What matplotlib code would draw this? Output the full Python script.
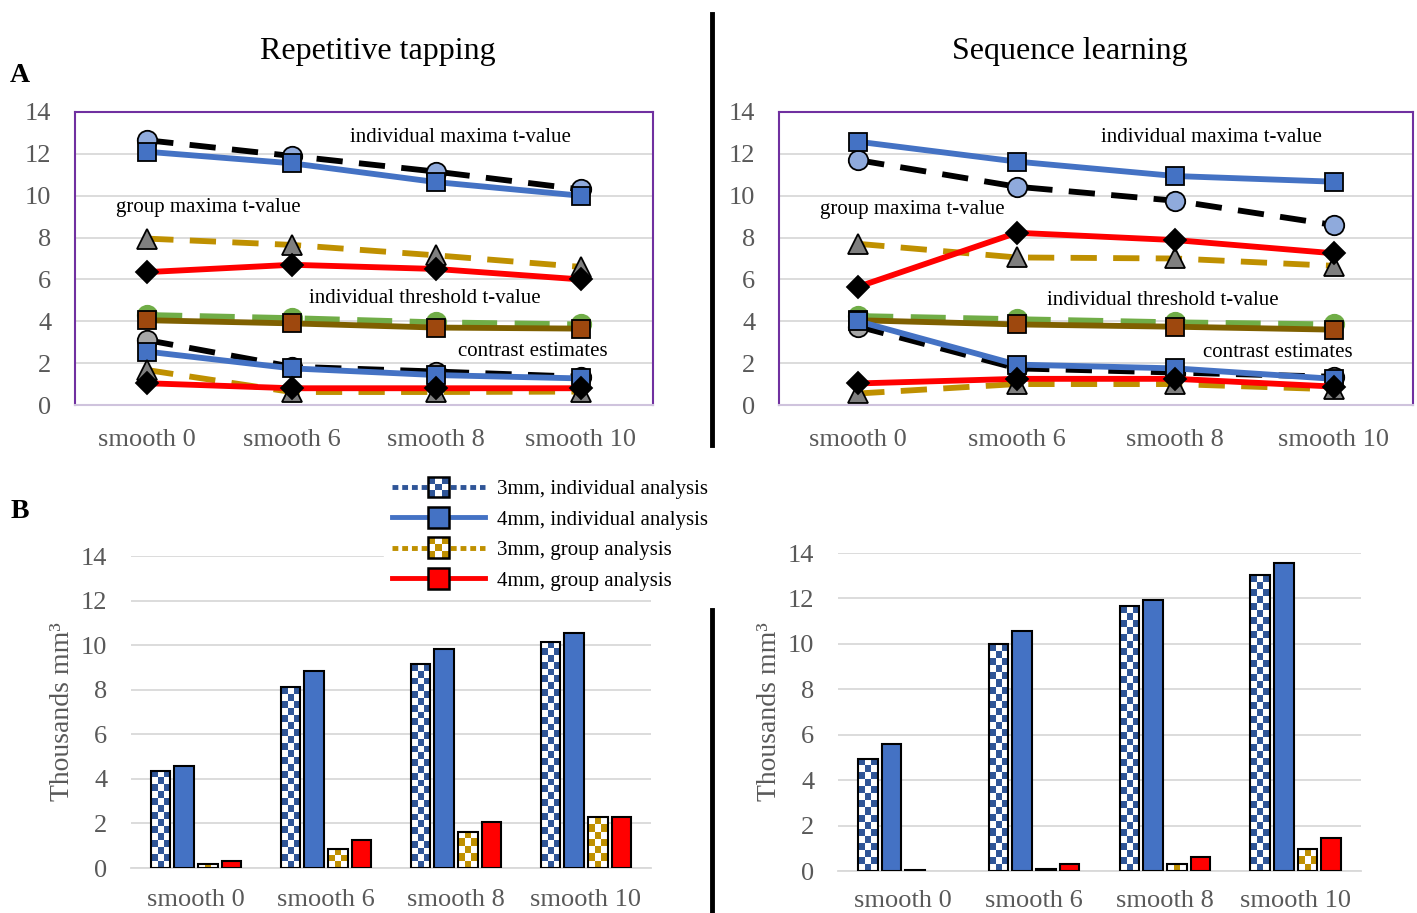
import numpy as np
import matplotlib
matplotlib.use('Agg')
import matplotlib.pyplot as plt
from matplotlib.lines import Line2D
from matplotlib.patches import Rectangle
from matplotlib.colors import ListedColormap
from matplotlib.legend_handler import HandlerBase

plt.rcParams['font.family'] = ['Liberation Serif', 'DejaVu Serif']

W, H = 1417, 913

categories = ['smooth 0', 'smooth 6', 'smooth 8', 'smooth 10']

# Panel A, repetitive tapping (t-values)
tap_ind_max_3mm = [12.65, 11.9, 11.15, 10.3]
tap_ind_max_4mm = [12.1, 11.55, 10.65, 10.0]
tap_grp_max_3mm = [7.95, 7.65, 7.15, 6.6]
tap_grp_max_4mm = [6.35, 6.7, 6.5, 6.0]
tap_thr_3mm = [4.3, 4.15, 3.95, 3.85]
tap_thr_4mm = [4.05, 3.9, 3.7, 3.65]
tap_con_ind_3mm = [3.1, 1.83, 1.6, 1.35]
tap_con_ind_4mm = [2.55, 1.75, 1.43, 1.27]
tap_con_grp_3mm = [1.67, 0.62, 0.62, 0.64]
tap_con_grp_4mm = [1.04, 0.8, 0.8, 0.8]

# Panel A, sequence learning (t-values)
seq_ind_max_3mm = [11.7, 10.43, 9.76, 8.6]
seq_ind_max_4mm = [12.58, 11.63, 10.94, 10.67]
seq_grp_max_3mm = [7.7, 7.05, 7.0, 6.65]
seq_grp_max_4mm = [5.65, 8.23, 7.88, 7.25]
seq_thr_3mm = [4.25, 4.1, 3.95, 3.85]
seq_thr_4mm = [4.05, 3.85, 3.74, 3.6]
seq_con_ind_3mm = [3.75, 1.75, 1.55, 1.35]
seq_con_ind_4mm = [4.0, 1.93, 1.75, 1.25]
seq_con_grp_3mm = [0.55, 1.0, 1.0, 0.75]
seq_con_grp_4mm = [1.03, 1.25, 1.25, 0.88]

# Panel B, volumes (thousands mm3)
tap_vol_ind_3mm = [4.37, 8.12, 9.15, 10.15]
tap_vol_ind_4mm = [4.58, 8.84, 9.83, 10.53]
tap_vol_grp_3mm = [0.19, 0.87, 1.63, 2.27]
tap_vol_grp_4mm = [0.3, 1.26, 2.08, 2.27]

seq_vol_ind_3mm = [4.95, 9.98, 11.66, 13.03]
seq_vol_ind_4mm = [5.57, 10.56, 11.93, 13.56]
seq_vol_grp_3mm = [0.03, 0.1, 0.33, 0.95]
seq_vol_grp_4mm = [0.0, 0.33, 0.6, 1.47]

BLUE = '#4472C4'
DKBLUE = '#2F5597'
GOLD = '#BF9000'
RED = '#FF0000'
TICK = '#595959'
GRID = '#D9D9D9'
PURPLE = '#7030A0'

dash = (0, (4.5, 2.8))
line_styles = [
    dict(color='black', ls=dash, marker='o', ms=14, mfc='#8FAADC'),
    dict(color=BLUE, ls='-', marker='s', ms=13, mfc=BLUE),
    dict(color=GOLD, ls=dash, marker='^', ms=15, mfc='#7F7F7F'),
    dict(color=RED, ls='-', marker='D', ms=11, mfc='black'),
    dict(color='#70AD47', ls=(0, (6, 3)), marker='o', ms=14, mfc='#70AD47', mec='#70AD47'),
    dict(color='#7F6000', ls='-', marker='s', ms=13, mfc='#9E480E'),
    dict(color='black', ls=dash, marker='o', ms=14, mfc='#A6A6A6'),
    dict(color=BLUE, ls='-', marker='s', ms=13, mfc=BLUE),
    dict(color=GOLD, ls=dash, marker='^', ms=15, mfc='#7F7F7F'),
    dict(color=RED, ls='-', marker='D', ms=11, mfc='black'),
]


def px_axes(fig, left, top, right, bottom):
    return fig.add_axes([left / W, 1 - bottom / H, (right - left) / W, (bottom - top) / H])


def draw_lines(ax, series, notes):
    x = np.arange(len(categories))
    for vals, st in zip(series, line_styles):
        st = dict(st)
        st.setdefault('mec', 'black')
        ax.plot(x, vals, lw=4.2, mew=1.3, dash_capstyle='butt', **st)
    for (tx, ty, s) in notes:
        ax.text(tx, ty, s, ha='center', va='center', fontsize=15, color='black')
    ax.set_xlim(-0.5, 3.5)
    ax.set_ylim(0, 14)
    ax.set_yticks(range(0, 15, 2))
    ax.set_xticks(x)
    ax.set_xticklabels(categories)
    ax.tick_params(axis='y', length=0, pad=17, labelsize=19, labelcolor=TICK)
    ax.tick_params(axis='x', length=0, pad=17, labelsize=19, labelcolor=TICK)
    ax.grid(axis='y', color=GRID, lw=1.3)
    ax.set_axisbelow(True)
    for sp in ax.spines.values():
        sp.set_color(PURPLE)
        sp.set_linewidth(1.5)
    ax.spines['bottom'].set_color('#CFC3DD')


def checker_bars(ax, x, vals, width, color):
    lws = [1.5 if v > 0 else 0 for v in vals]
    rects = ax.bar(x, vals, width, color='white', edgecolor='none', zorder=2)
    cmap = ListedColormap(['white', color])
    for r in rects:
        h = r.get_height()
        if h <= 0:
            continue
        nrows = max(1, int(round(h / 0.31)))
        pattern = np.add.outer(np.arange(nrows), np.arange(3)) % 2
        im = ax.imshow(pattern, extent=(r.get_x(), r.get_x() + r.get_width(), 0, h),
                       origin='lower', cmap=cmap, aspect='auto', interpolation='nearest',
                       zorder=2.5, vmin=0, vmax=1)
        im.set_clip_path(r)
    ax.bar(x, vals, width, fill=False, edgecolor='black', linewidth=lws, zorder=3)


def draw_bars(ax, ind3, ind4, grp3, grp4, xpad):
    x = np.arange(len(categories))
    step, width = 0.181, 0.15
    checker_bars(ax, x - 1.5 * step, ind3, width, DKBLUE)
    ax.bar(x - 0.5 * step, ind4, width, color=BLUE, edgecolor='black', linewidth=1.5, zorder=3)
    checker_bars(ax, x + 0.5 * step, grp3, width, GOLD)
    lws = [1.5 if v > 0 else 0 for v in grp4]
    ax.bar(x + 1.5 * step, grp4, width, color=RED, edgecolor='black', linewidth=lws, zorder=3)
    ax.set_xlim(-0.5, 3.5)
    ax.set_ylim(0, 14)
    ax.set_yticks(range(0, 15, 2))
    ax.set_xticks(x)
    ax.set_xticklabels(categories)
    ax.tick_params(axis='y', length=0, pad=17, labelsize=19, labelcolor=TICK)
    ax.tick_params(axis='x', length=0, pad=xpad, labelsize=19, labelcolor=TICK)
    ax.grid(axis='y', color=GRID, lw=1.3)
    ax.set_axisbelow(True)
    for k in ['left', 'right', 'top']:
        ax.spines[k].set_visible(False)
    ax.spines['bottom'].set_color(GRID)
    ax.spines['bottom'].set_linewidth(1.3)
    ax.set_ylabel('Thousands mm³', fontsize=20, color=TICK, labelpad=4)


class SwatchHandler(HandlerBase):
    def __init__(self, line_color, line_style, face, checker):
        super().__init__()
        self.line_color = line_color
        self.line_style = line_style
        self.face = face
        self.checker = checker

    def create_artists(self, legend, orig_handle, xdescent, ydescent, width, height, fontsize, trans):
        yc = height / 2 - ydescent
        line = Line2D([-xdescent, width - xdescent], [yc, yc], color=self.line_color,
                      lw=3.5, linestyle=self.line_style, transform=trans)
        s = fontsize * 1.0
        x0 = width / 2 - xdescent - s / 2
        y0 = yc - s / 2
        arts = [line]
        if self.checker:
            c = s / 3
            for i in range(3):
                for j in range(3):
                    fc = self.face if (i + j) % 2 == 0 else 'white'
                    arts.append(Rectangle((x0 + i * c, y0 + j * c), c, c, facecolor=fc,
                                          edgecolor='none', transform=trans))
            arts.append(Rectangle((x0, y0), s, s, facecolor='none', edgecolor='black',
                                  lw=1.8, transform=trans))
        else:
            arts.append(Rectangle((x0, y0), s, s, facecolor=self.face, edgecolor='black',
                                  lw=1.8, transform=trans))
        return arts


fig = plt.figure(figsize=(W / 100, H / 100), dpi=100)

ax1 = px_axes(fig, 75, 112, 653, 405)
draw_lines(ax1, [tap_ind_max_3mm, tap_ind_max_4mm, tap_grp_max_3mm, tap_grp_max_4mm,
                 tap_thr_3mm, tap_thr_4mm, tap_con_ind_3mm, tap_con_ind_4mm,
                 tap_con_grp_3mm, tap_con_grp_4mm],
           [(2.17, 12.8, 'individual maxima t-value'),
            (0.42, 9.45, 'group maxima t-value'),
            (1.92, 5.07, 'individual threshold t-value'),
            (2.67, 2.58, 'contrast estimates')])

ax2 = px_axes(fig, 779, 112, 1413, 405)
draw_lines(ax2, [seq_ind_max_3mm, seq_ind_max_4mm, seq_grp_max_3mm, seq_grp_max_4mm,
                 seq_thr_3mm, seq_thr_4mm, seq_con_ind_3mm, seq_con_ind_4mm,
                 seq_con_grp_3mm, seq_con_grp_4mm],
           [(2.23, 12.78, 'individual maxima t-value'),
            (0.34, 9.33, 'group maxima t-value'),
            (1.92, 4.98, 'individual threshold t-value'),
            (2.65, 2.49, 'contrast estimates')])

ax3 = px_axes(fig, 131, 556, 651, 868)
draw_bars(ax3, tap_vol_ind_3mm, tap_vol_ind_4mm, tap_vol_grp_3mm, tap_vol_grp_4mm, 15)

ax4 = px_axes(fig, 838, 553, 1361, 871)
draw_bars(ax4, seq_vol_ind_3mm, seq_vol_ind_4mm, seq_vol_grp_3mm, seq_vol_grp_4mm, 14)

fig.text(378 / W, 1 - 52 / H, 'Repetitive tapping', ha='center', va='center', fontsize=23)
fig.text(1070 / W, 1 - 52 / H, 'Sequence learning', ha='center', va='center', fontsize=23)
fig.text(20 / W, 1 - 75 / H, 'A', ha='center', va='center', fontsize=20, fontweight='bold')
fig.text(20 / W, 1 - 512 / H, 'B', ha='center', va='center', fontsize=20, fontweight='bold')

fig.add_artist(Line2D([712 / W, 712 / W], [1 - 14 / H, 1 - 445 / H], transform=fig.transFigure,
                      color='black', lw=3.5))
fig.add_artist(Line2D([712 / W, 712 / W], [1 - 610 / H, 0], transform=fig.transFigure,
                      color='black', lw=3.5))

handles = [Line2D([], []) for _ in range(4)]
labels = ['3mm, individual analysis', '4mm, individual analysis',
          '3mm, group analysis', '4mm, group analysis']
hmap = {
    handles[0]: SwatchHandler(DKBLUE, (0, (1.2, 0.8)), DKBLUE, True),
    handles[1]: SwatchHandler(BLUE, '-', BLUE, False),
    handles[2]: SwatchHandler(GOLD, (0, (1.2, 0.8)), GOLD, True),
    handles[3]: SwatchHandler(RED, '-', RED, False),
}
leg = fig.legend(handles, labels, handler_map=hmap, loc='upper left',
                 bbox_to_anchor=(374 / W, 1 - 462 / H), fontsize=15, handlelength=4.5,
                 handletextpad=0.55, labelspacing=0.52, borderpad=0.35, frameon=True,
                 fancybox=False, framealpha=1, edgecolor='white', facecolor='white')

fig.savefig('out.png', dpi=100)
